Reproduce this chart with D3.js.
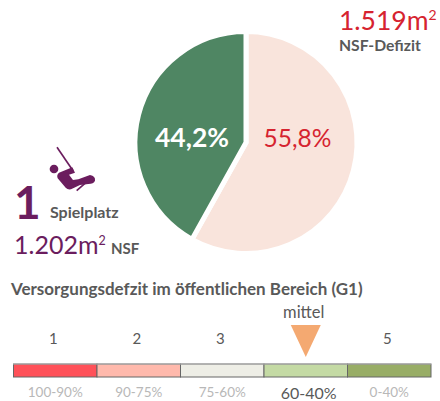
<!DOCTYPE html>
<html>
<head>
<meta charset="utf-8">
<script src="https://cdn.jsdelivr.net/npm/d3@7"></script>
<style>
  html, body { margin: 0; padding: 0; background: #fff; }
  text { font-family: Lato, "Open Sans", sans-serif; }
</style>
</head>
<body>
<div id="chart"></div>
<script>
// values
// the slices are drawn a bit off their labels in the original, so shares are measured from the angle
var pieLabels = ["55,8%", "44,2%"];
var pieValues = [58.1, 41.9];
var pieColors = ["#f9e4dc", "#4f8663"];
var pieTextColors = ["#d6232f", "#ffffff"];

var classes = ["1", "2", "3", "4", "5"];
var classRanges = ["100-90%", "90-75%", "75-60%", "60-40%", "0-40%"];
var classColors = ["#ff5159", "#ffb9ac", "#eeeee6", "#c4daa4", "#98ad66"];
var activeClass = "4";
var activeLabel = "mittel";

var width = 440, height = 401;
var grey = "#595959", purple = "#6b1d5e", red = "#d6232f";

var svg = d3.select("#chart")
  .append("svg")
    .attr("width", width)
    .attr("height", height)
    .style("display", "block");

// pie
var pieG = svg.append("g").attr("transform", "translate(246,142.5)");
var pie = d3.pie().sort(null).value(function(d) { return d; });
var arc = d3.arc().innerRadius(0).outerRadius(111);
var arcs = pie(pieValues);

pieG.selectAll("path")
  .data(arcs)
  .enter()
  .append("path")
    .attr("d", arc)
    .attr("fill", function(d, i) { return pieColors[i]; })
    .attr("stroke", "#fff")
    .attr("stroke-width", 5);

var labelX = [51.5, -54];
pieG.selectAll("text")
  .data(arcs)
  .enter()
  .append("text")
    .attr("x", function(d, i) { return labelX[i]; })
    .attr("y", 4.5)
    .attr("text-anchor", "middle")
    .attr("font-size", function(d, i) { return i == 1 ? 26.5 : 24.5; })
    .attr("font-weight", function(d, i) { return i == 1 ? 700 : 400; })
    .attr("fill", function(d, i) { return pieTextColors[i]; })
    .text(function(d, i) { return pieLabels[i]; });

// top right numbers
var deficit = svg.append("text").attr("x", 339).attr("y", 29.5).attr("fill", red).attr("font-size", 26.5);
deficit.append("tspan").text("1.519m");
deficit.append("tspan").attr("font-size", 14).attr("dy", -9.5).text("2");
svg.append("text").attr("x", 339).attr("y", 51)
  .attr("fill", grey).attr("font-size", 15.7).attr("font-weight", 700).text("NSF-Defizit");

// swing icon, drawn in zoomed up units
var icon = svg.append("g").attr("transform", "translate(45,140) scale(0.3333)");
icon.append("line")
  .attr("x1", 36).attr("y1", 22).attr("x2", 84).attr("y2", 92)
  .attr("stroke", purple).attr("stroke-width", 5);
icon.append("circle").attr("cx", 27).attr("cy", 87).attr("r", 13).attr("fill", purple);
icon.append("path")
  .attr("d", "M42,98 L82,82 L90,98 L72,104 L84,120 L100,118 L135,105 Q152,108 150,122 Q146,132 130,132 L105,135 L78,148 Q68,150 62,143 L38,115 Q34,105 42,98 Z")
  .attr("fill", purple);
icon.append("path")
  .attr("d", "M95,152 L120,130")
  .attr("fill", "none").attr("stroke", purple).attr("stroke-width", 5);

// left block
svg.append("text").attr("x", 14).attr("y", 219)
  .attr("fill", purple).attr("font-size", 46).attr("font-weight", 700).text("1");
svg.append("text").attr("x", 50).attr("y", 218)
  .attr("fill", grey).attr("font-size", 16).attr("font-weight", 700).text("Spielplatz");
var nsf = svg.append("text").attr("x", 14).attr("y", 254).attr("fill", purple).attr("font-size", 25);
nsf.append("tspan").text("1.202m");
nsf.append("tspan").attr("font-size", 12.5).attr("dy", -9.5).text("2");
svg.append("text").attr("x", 111).attr("y", 254)
  .attr("fill", grey).attr("font-size", 15).attr("font-weight", 700).text("NSF");

// scale block
svg.append("text").attr("x", 11).attr("y", 295)
  .attr("fill", grey).attr("font-size", 17).attr("font-weight", 700)
  .text("Versorgungsdefzit im öffentlichen Bereich (G1)");

var x = d3.scaleBand().domain(classes).range([13.5, 431]);
var barY = 364, barH = 13;

svg.selectAll("rect.cls")
  .data(classes)
  .enter()
  .append("rect")
    .attr("class", "cls")
    .attr("x", function(d) { return x(d); })
    .attr("y", barY)
    .attr("width", x.bandwidth())
    .attr("height", barH)
    .attr("fill", function(d, i) { return classColors[i]; })
    .attr("stroke", "#666")
    .attr("stroke-width", 1);
svg.append("line")
  .attr("x1", 13).attr("x2", 431).attr("y1", 364).attr("y2", 364)
  .attr("stroke", "#b5b5b5").attr("stroke-width", 1);

svg.selectAll("text.num")
  .data(classes.filter(function(d) { return d != activeClass; }))
  .enter()
  .append("text")
    .attr("class", "num")
    .attr("x", function(d) { return x(d) + x.bandwidth() / 2 - 2; })
    .attr("y", 344)
    .attr("text-anchor", "middle")
    .attr("fill", grey)
    .attr("font-size", 15)
    .text(function(d) { return d; });

svg.selectAll("text.range")
  .data(classes)
  .enter()
  .append("text")
    .attr("class", "range")
    .attr("x", function(d) { return x(d) + x.bandwidth() / 2 + (d == activeClass ? 3 : 0); })
    .attr("y", function(d) { return d == activeClass ? 399 : 397; })
    .attr("text-anchor", "middle")
    .attr("fill", function(d) { return d == activeClass ? "#595959" : "#b8b8b8"; })
    .attr("font-size", function(d) { return d == activeClass ? 16 : 13.5; })
    .text(function(d, i) { return classRanges[i]; });

// marker over the active class
var cx = x(activeClass) + x.bandwidth() / 2;
svg.append("path")
  .attr("d", d3.line()([[cx - 15, 325], [cx + 15, 325], [cx, 357]]) + "Z")
  .attr("fill", "#f4a971");
svg.append("text").attr("x", cx - 2).attr("y", 318)
  .attr("text-anchor", "middle").attr("fill", grey).attr("font-size", 16.5).text(activeLabel);
</script>
</body>
</html>
